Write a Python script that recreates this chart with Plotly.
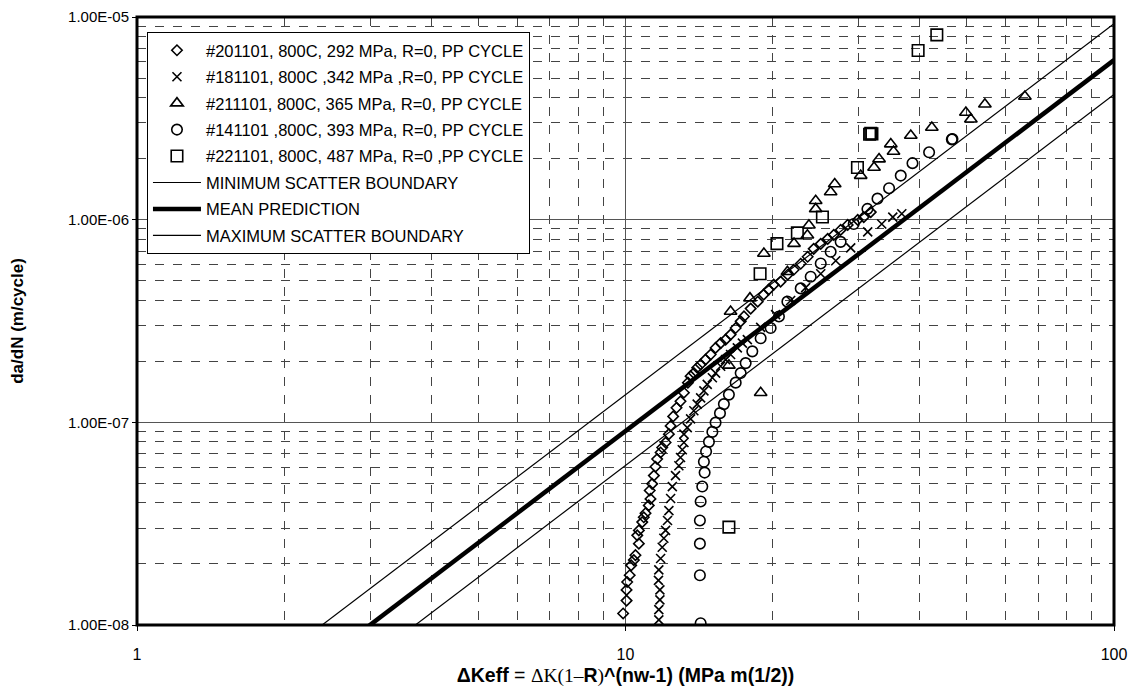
import plotly.graph_objects as go

# ---------------- data ----------------
s201101_x = [9.89, 10.05, 10.05, 10.08, 10.2, 10.27, 10.4, 10.48, 10.65, 10.57, 10.65, 10.82, 10.9, 10.99,
             11.16, 11.25, 11.21, 11.34, 11.43, 11.52, 11.61, 11.8, 11.89, 12.08, 12.27, 12.37, 12.52, 12.72,
             12.96, 13.17, 13.42, 13.59, 13.8, 14.02, 14.25, 14.58, 14.94, 15.29, 15.66, 16.03, 16.41, 16.81,
             17.21, 17.48, 18.04, 18.65, 19.18, 19.63, 20.11, 20.77, 21.48, 22.1, 22.84, 23.6, 24.28, 25.1,
             25.94, 26.69, 27.57, 28.5, 29.88, 30.74, 31.77]
s201101_y = [1.14e-8, 1.32e-8, 1.49e-8, 1.63e-8, 1.76e-8, 1.97e-8, 2.09e-8, 2.21e-8, 2.52e-8, 2.77e-8, 2.93e-8,
             3.22e-8, 3.40e-8, 3.56e-8, 3.89e-8, 4.19e-8, 4.61e-8, 4.97e-8, 5.46e-8, 6.04e-8, 6.59e-8, 7.10e-8,
             7.51e-8, 7.95e-8, 8.74e-8, 9.60e-8, 1.07e-7, 1.18e-7, 1.27e-7, 1.40e-7, 1.57e-7, 1.69e-7, 1.75e-7,
             1.86e-7, 1.93e-7, 2.04e-7, 2.16e-7, 2.33e-7, 2.46e-7, 2.56e-7, 2.71e-7, 2.92e-7, 3.15e-7, 3.33e-7,
             3.64e-7, 3.94e-7, 4.27e-7, 4.52e-7, 4.78e-7, 4.95e-7, 5.35e-7, 5.66e-7, 6.06e-7, 6.56e-7, 7.18e-7,
             7.60e-7, 8.04e-7, 8.41e-7, 8.90e-7, 9.42e-7, 9.97e-7, 1.03e-6, 1.09e-6]

s181101_x = [11.7, 11.7, 11.76, 11.76, 11.68, 11.7, 11.8, 11.89, 11.98, 12.08, 12.19, 12.27, 12.37, 12.47,
             12.66, 12.86, 12.96, 13.07, 13.17, 13.17, 13.38, 13.59, 13.8, 14.02, 14.25, 14.47, 14.7, 15.06,
             15.29, 15.66, 16.03, 16.41, 16.94, 17.35, 17.76, 18.91, 20.29, 21.78, 23.38, 25.1, 26.94, 28.91,
             31.32, 33.46, 35.25, 36.78]
s181101_y = [1.06e-8, 1.19e-8, 1.33e-8, 1.49e-8, 1.66e-8, 1.87e-8, 2.13e-8, 2.42e-8, 2.68e-8, 2.93e-8, 3.28e-8,
             3.67e-8, 4.21e-8, 4.82e-8, 5.46e-8, 6.11e-8, 6.71e-8, 7.32e-8, 7.95e-8, 8.74e-8, 9.42e-8, 1.04e-7,
             1.14e-7, 1.23e-7, 1.32e-7, 1.43e-7, 1.54e-7, 1.66e-7, 1.75e-7, 1.89e-7, 2.04e-7, 2.16e-7, 2.33e-7,
             2.46e-7, 2.56e-7, 2.94e-7, 3.40e-7, 3.99e-7, 4.62e-7, 5.41e-7, 6.27e-7, 7.26e-7, 8.70e-7, 9.52e-7,
             1.03e-6, 1.07e-6]

s211101_x = [16.28, 18.91, 16.41, 17.98, 21.45, 19.2, 22.13, 23.57, 23.74, 24.51, 24.51, 26.3, 26.81, 30.3,
             32.27, 33.04, 35.37, 34.92, 38.37, 42.37, 49.75, 50.93, 54.41, 65.7]
s211101_y = [1.91e-7, 1.40e-7, 3.52e-7, 4.10e-7, 5.53e-7, 6.81e-7, 7.62e-7, 8.38e-7, 9.39e-7, 1.13e-6, 1.24e-6,
             1.37e-6, 1.50e-6, 1.65e-6, 1.81e-6, 1.99e-6, 2.17e-6, 2.36e-6, 2.60e-6, 2.85e-6, 3.38e-6, 3.13e-6,
             3.71e-6, 4.05e-6]

s141101_x = [14.25, 14.2, 14.2, 14.2, 14.25, 14.36, 14.52, 14.47, 14.62, 14.82, 15.06, 15.29, 15.61, 15.9,
             16.28, 16.81, 17.21, 17.62, 18.18, 18.91, 19.82, 20.61, 21.45, 22.84, 23.94, 25.1, 26.3, 27.57,
             29.32, 31.28, 32.8, 34.64, 36.6, 38.68, 41.83, 46.56, 46.7]
s141101_y = [1.02e-8, 1.76e-8, 2.52e-8, 3.28e-8, 4.07e-8, 4.82e-8, 5.65e-8, 6.39e-8, 7.18e-8, 8.01e-8, 8.97e-8,
             9.97e-8, 1.11e-7, 1.23e-7, 1.37e-7, 1.57e-7, 1.75e-7, 1.96e-7, 2.24e-7, 2.60e-7, 2.92e-7, 3.33e-7,
             3.94e-7, 4.58e-7, 5.23e-7, 6.08e-7, 6.94e-7, 7.77e-7, 9.52e-7, 1.13e-6, 1.27e-6, 1.43e-6, 1.65e-6,
             1.90e-6, 2.15e-6, 2.49e-6, 2.50e-6]

s221101_x = [16.28, 18.86, 20.42, 22.48, 25.3, 29.84, 31.6, 31.77, 31.95, 39.72, 43.38]
s221101_y = [3.04e-8, 5.41e-7, 7.62e-7, 8.61e-7, 1.03e-6, 1.81e-6, 2.64e-6, 2.67e-6, 2.65e-6, 6.83e-6, 8.16e-6]

series_names = [
    "#201101, 800C, 292 MPa, R=0, PP CYCLE",
    "#181101, 800C ,342 MPa ,R=0, PP CYCLE",
    "#211101, 800C, 365 MPa, R=0, PP CYCLE",
    "#141101 ,800C, 393 MPa, R=0, PP CYCLE",
    "#221101, 800C, 487 MPa, R=0 ,PP CYCLE",
]

# Paris-type boundary lines: da/dN = C * dKeff^m
line_names = ["MINIMUM SCATTER BOUNDARY", "MEAN PREDICTION", "MAXIMUM SCATTER BOUNDARY"]
line_C = [2.025e-9, 1.34e-9, 9.06e-10]
line_m = [1.83, 1.83, 1.83]
line_x = [1.0, 100.0]

y_tickvals = [1e-8, 1e-7, 1e-6, 1e-5]
y_ticktext = ["1.00E-08", "1.00E-07", "1.00E-06", "1.00E-05"]
x_tickvals = [1, 10, 100]
x_ticktext = ["1", "10", "100"]

# ---------------- figure ----------------
FONT = "Liberation Sans, Arial, sans-serif"
SERIF = "Liberation Serif, Times New Roman, serif"
fig = go.Figure()

series = [
    (s201101_x, s201101_y, "diamond-open", 8),
    (s181101_x, s181101_y, "x-thin-open", 9),
    (s211101_x, s211101_y, "triangle-up-open", 11),
    (s141101_x, s141101_y, "circle-open", 10.5),
    (s221101_x, s221101_y, "square-open", 11.5),
]
for i, ((xs, ys, sym, sz), name) in enumerate(zip(series, series_names)):
    fig.add_trace(go.Scatter(
        x=xs, y=ys, mode="markers", name=name, legendgroup=f"g{i}",
        marker=dict(symbol=sym, size=sz, color="black", line=dict(color="black", width=1.6)),
    ))

widths = [1.2, 4.5, 1.2]
for j, (name, C, m, w) in enumerate(zip(line_names, line_C, line_m, widths)):
    ys = [C * xv ** m for xv in line_x]
    fig.add_trace(go.Scatter(
        x=line_x, y=ys, mode="lines", name=name, legendgroup=f"l{j}",
        line=dict(color="black", width=w),
    ))

xtitle = (f"<b>ΔKeff</b> = <span style='font-family:{SERIF}'>ΔK(1–</span>"
          f"<b>R</b><span style='font-family:{SERIF}'>)</span>"
          "<b>^(nw-1) (MPa m(1/2))</b>")

fig.update_layout(
    width=1130, height=685,
    margin=dict(l=129, r=24, t=9, b=68, autoexpand=False),
    paper_bgcolor="white", plot_bgcolor="white",
    font=dict(family=FONT, color="black", size=15),
    showlegend=True,
    legend=dict(
        x=0.0102, y=0.9753, xanchor="left", yanchor="top",
        bgcolor="white", bordercolor="black", borderwidth=1,
        font=dict(family=FONT, size=16.5, color="black"),
        traceorder="grouped", tracegroupgap=2, itemwidth=48,
    ),
    xaxis=dict(
        type="log", range=[0, 2], automargin=False,
        tickvals=x_tickvals, ticktext=x_ticktext, ticklabeloverflow="allow",
        tickfont=dict(size=16), ticks="outside", ticklen=5, tickcolor="black",
        ticklabelstandoff=10,
        showgrid=True, gridcolor="#555555", gridwidth=1,
        minor=dict(showgrid=True, gridcolor="#444444", griddash="dash", gridwidth=1,
                   dtick="D1", ticks=""),
        showline=False, zeroline=False,
        title=dict(text=xtitle, font=dict(size=19.5), standoff=6),
    ),
    yaxis=dict(
        type="log", range=[-8, -5], automargin=False,
        tickvals=y_tickvals, ticktext=y_ticktext, ticklabeloverflow="allow",
        tickfont=dict(size=15), ticks="outside", ticklen=4, tickcolor="black",
        showgrid=True, gridcolor="#555555", gridwidth=1,
        minor=dict(showgrid=True, gridcolor="#444444", griddash="dash", gridwidth=1,
                   dtick="D1", ticks=""),
        showline=False, zeroline=False,
        title=dict(text="<b>da/dN (m/cycle)</b>", font=dict(size=17), standoff=41),
    ),
    shapes=[dict(type="rect", xref="paper", yref="paper", x0=0, y0=0, x1=1, y1=1,
                 line=dict(color="black", width=3), fillcolor="rgba(0,0,0,0)", layer="above")],
)

fig.write_html("out.html")
